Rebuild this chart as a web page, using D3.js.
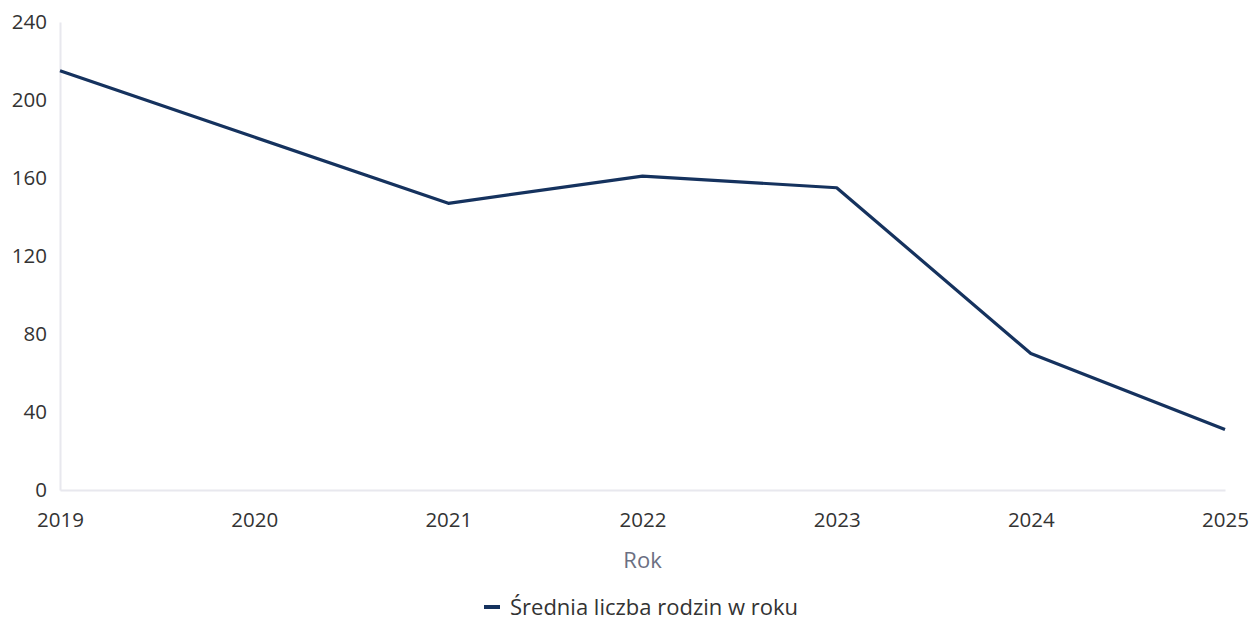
<!DOCTYPE html>
<html>
<head>
<meta charset="utf-8">
<script src="https://cdn.jsdelivr.net/npm/d3@7"></script>
<style>
  body { margin: 0; background: #fff; }
  text { font-family: "Open Sans", "Noto Sans", sans-serif; }
</style>
</head>
<body>
<div id="chart"></div>
<script>
'use strict'

// data
const years = ['2019', '2020', '2021', '2022', '2023', '2024', '2025']
const families = [215, 181, 147, 161, 155, 70, 31]
const yTicks = [0, 40, 80, 120, 160, 200, 240]
const seriesName = 'Średnia liczba rodzin w roku'
const xTitle = 'Rok'

const svgWidth = 1251
const svgHeight = 620
const margin = { left: 60, right: 26, top: 22, bottom: 130 }
const width = svgWidth - margin.left - margin.right
const height = svgHeight - margin.top - margin.bottom

const svg = d3.select('#chart')
    .append('svg')
    .attr('width', svgWidth)
    .attr('height', svgHeight)

const g = svg.append('g')
    .attr('transform', `translate(${margin.left},${margin.top})`)

const x = d3.scalePoint()
    .domain(years)
    .range([0, width])

const y = d3.scaleLinear()
    .domain([0, 240])
    .range([height, 0])

// y axis
const yAxis = g.append('g')
    .call(d3.axisLeft(y).tickValues(yTicks).tickSize(0).tickPadding(13))
yAxis.select('.domain').attr('stroke', '#e8e8ee').attr('stroke-width', 2)
yAxis.selectAll('text')
    .attr('fill', '#333')
    .style('font-size', '20.5px')

// x axis
const xAxis = g.append('g')
    .attr('transform', `translate(0,${height})`)
    .call(d3.axisBottom(x).tickSize(0).tickPadding(22))
xAxis.select('.domain').attr('stroke', '#e8e8ee').attr('stroke-width', 2)
xAxis.selectAll('text')
    .attr('fill', '#333')
    .style('font-size', '20.5px')

// axis title
g.append('text')
    .attr('x', width / 2)
    .attr('y', height + 78)
    .attr('text-anchor', 'middle')
    .attr('fill', '#6b6f82')
    .style('font-size', '22px')
    .text(xTitle)

// line
const line = d3.line()
    .x((d, i) => x(years[i]))
    .y(d => y(d))

g.append('path')
    .datum(families)
    .attr('fill', 'none')
    .attr('stroke', '#15325e')
    .attr('stroke-width', 3.2)
    .attr('stroke-linejoin', 'round')
    .attr('d', line)

// legend
const legend = svg.append('g')
    .attr('transform', 'translate(484,607)')
legend.append('line')
    .attr('x1', 0).attr('x2', 16)
    .attr('stroke', '#15325e')
    .attr('stroke-width', 4)
legend.append('text')
    .attr('x', 26)
    .attr('dy', '0.35em')
    .attr('fill', '#333')
    .style('font-size', '22px')
    .text(seriesName)
</script>
</body>
</html>
